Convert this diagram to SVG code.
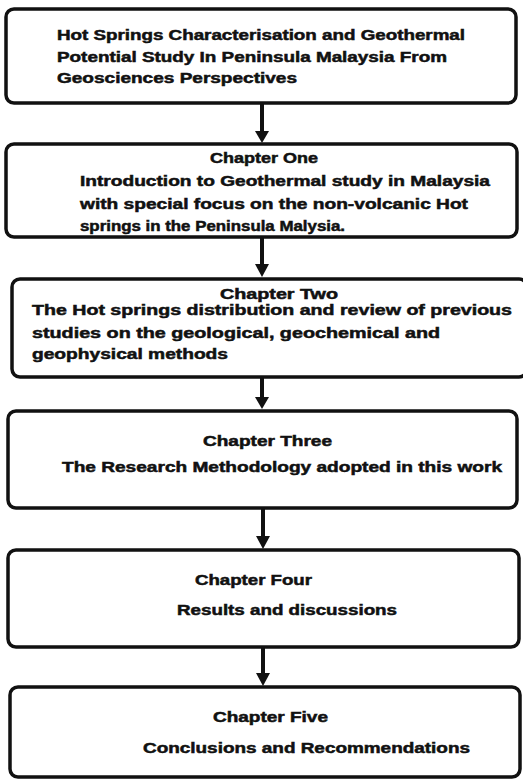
<svg xmlns="http://www.w3.org/2000/svg" width="523" height="780" viewBox="0 0 523 780">
<style>
.box{fill:#fff;stroke:#111;stroke-width:3.5}
.t{font-family:"Liberation Sans",Arial,sans-serif;font-weight:bold;font-size:14.5px;fill:#111;stroke:#111;stroke-width:0.5}
.c{stroke:#111;stroke-width:4;fill:none}
.h{fill:#111}
</style>
<rect width="523" height="780" fill="#fff"/>
<g id="connectors">
<line class="c" x1="262" y1="104" x2="262" y2="132"/><polygon class="h" points="255,131 269,131 262,143"/>
<line class="c" x1="262" y1="237" x2="262" y2="265"/><polygon class="h" points="255,264 269,264 262,277"/>
<line class="c" x1="262" y1="377" x2="262" y2="398"/><polygon class="h" points="255,397 269,397 262,409"/>
<line class="c" x1="263" y1="508" x2="263" y2="537"/><polygon class="h" points="256,536 270,536 263,549"/>
<line class="c" x1="263" y1="647" x2="263" y2="674"/><polygon class="h" points="256,673 270,673 263,686"/>
</g>
<g id="title">
<rect class="box" x="6" y="9" width="510" height="94" rx="8"/>
<text class="t" x="57" y="40" textLength="408" lengthAdjust="spacingAndGlyphs">Hot Springs Characterisation and Geothermal</text>
<text class="t" x="57" y="62" textLength="390" lengthAdjust="spacingAndGlyphs">Potential Study In Peninsula Malaysia From</text>
<text class="t" x="57" y="83" textLength="240" lengthAdjust="spacingAndGlyphs">Geosciences Perspectives</text>
</g>
<g id="chapter1">
<rect class="box" x="6" y="144" width="511" height="93" rx="8"/>
<text class="t" x="210" y="163" textLength="108" lengthAdjust="spacingAndGlyphs">Chapter One</text>
<text class="t" x="80" y="186" textLength="410" lengthAdjust="spacingAndGlyphs">Introduction to Geothermal study in Malaysia</text>
<text class="t" x="80" y="209" textLength="388" lengthAdjust="spacingAndGlyphs">with special focus on the non-volcanic Hot</text>
<text class="t" x="80" y="231" textLength="265" lengthAdjust="spacingAndGlyphs">springs in the Peninsula Malysia.</text>
</g>
<g id="chapter2">
<rect class="box" x="12" y="279" width="515" height="98" rx="8"/>
<text class="t" x="220" y="299" textLength="118" lengthAdjust="spacingAndGlyphs">Chapter Two</text>
<text class="t" x="32" y="315" textLength="480" lengthAdjust="spacingAndGlyphs">The Hot springs distribution and review of previous</text>
<text class="t" x="32" y="338" textLength="408" lengthAdjust="spacingAndGlyphs">studies on the geological, geochemical and</text>
<text class="t" x="32" y="359" textLength="196" lengthAdjust="spacingAndGlyphs">geophysical methods</text>
</g>
<g id="chapter3">
<rect class="box" x="8" y="411" width="509" height="97" rx="8"/>
<text class="t" x="203" y="446" textLength="129" lengthAdjust="spacingAndGlyphs">Chapter Three</text>
<text class="t" x="62" y="472" textLength="440" lengthAdjust="spacingAndGlyphs">The Research Methodology adopted in this work</text>
</g>
<g id="chapter4">
<rect class="box" x="8" y="550" width="511" height="97" rx="8"/>
<text class="t" x="195" y="585" textLength="117" lengthAdjust="spacingAndGlyphs">Chapter Four</text>
<text class="t" x="177" y="615" textLength="220" lengthAdjust="spacingAndGlyphs">Results and discussions</text>
</g>
<g id="chapter5">
<rect class="box" x="10" y="687" width="510" height="90" rx="8"/>
<text class="t" x="213" y="722" textLength="115" lengthAdjust="spacingAndGlyphs">Chapter Five</text>
<text class="t" x="143" y="753" textLength="327" lengthAdjust="spacingAndGlyphs">Conclusions and Recommendations</text>
</g>
</svg>
